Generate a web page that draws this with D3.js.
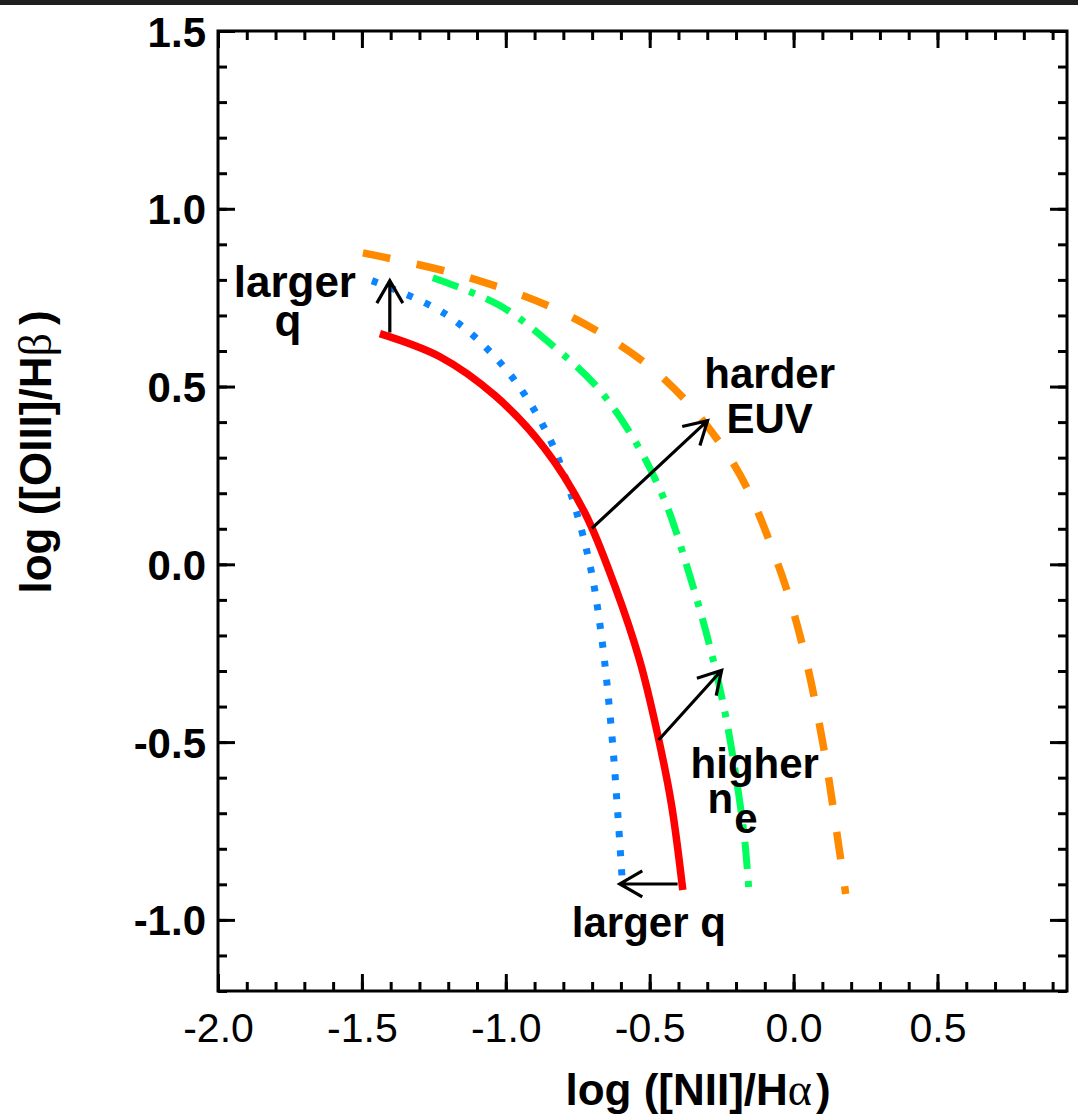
<!DOCTYPE html>
<html>
<head>
<meta charset="utf-8">
<script src="https://cdn.jsdelivr.net/npm/d3@7"></script>
<style>
  html, body { margin: 0; padding: 0; background: #fff; }
  svg { display: block; }
</style>
</head>
<body>
<svg id="chart" width="1078" height="1117"></svg>
<script>
// ---- model tracks in the BPT plane: log([NII]/Hα) vs log([OIII]/Hβ) ----
// fiducial model (solid red)
const baseX = [-1.4375, -1.229, -1.038, -0.865, -0.726, -0.622, -0.535, -0.472, -0.424, -0.385];
const baseY = [0.649, 0.584, 0.475, 0.326, 0.146, -0.059, -0.27, -0.48, -0.677, -0.916];
// larger ionisation parameter (dotted blue)
const qX = [-1.465, -1.212, -1.0104, -0.865, -0.778, -0.708, -0.667, -0.632, -0.611, -0.594];
const qY = [0.798, 0.705, 0.559, 0.382, 0.208, 0.0, -0.205, -0.475, -0.699, -0.907];
// higher electron density (dash-dot green)
const neX = [-1.2535, -1.0208, -0.837, -0.681, -0.552, -0.448, -0.361, -0.292, -0.24, -0.198, -0.17, -0.156];
const neY = [0.806, 0.728, 0.615, 0.497, 0.348, 0.18, -0.031, -0.228, -0.41, -0.607, -0.775, -0.91];
// harder EUV spectrum (dashed orange)
const euvX = [-1.4965, -1.125, -0.767, -0.448, -0.205, -0.059, 0.031, 0.101, 0.16, 0.181];
const euvY = [0.876, 0.806, 0.694, 0.52, 0.278, 0.011, -0.228, -0.5, -0.809, -0.927];

// ---- axis ticks ----
const xMajor = [-2.0, -1.5, -1.0, -0.5, 0.0, 0.5];
const yMajor = [-1.0, -0.5, 0.0, 0.5, 1.0, 1.5];
const xMinor = d3.range(-20, 10).map(v => v / 10);
const yMinor = d3.range(-12, 16).map(v => v / 10);

// ---- arrows (tail -> head) and their labels ----
const arrowX0 = [-1.403, -0.701, -0.469, -0.403];
const arrowY0 = [0.652, 0.101, -0.494, -0.899];
const arrowX1 = [-1.403, -0.299, -0.25, -0.604];
const arrowY1 = [0.798, 0.404, -0.298, -0.899];

const labelText = ["larger", "q", "harder", "EUV", "higher", "larger q"];
const labelX = [-1.733, -1.757, -0.083, -0.083, -0.135, -0.503];
const labelY = [0.752, 0.641, 0.497, 0.368, -0.601, -1.048];

// ---- layout ----
const svg = d3.select("#chart");
const W = 1078, H = 1117;
const frameL = 218, frameR = 1067, frameT = 31, frameB = 991;
const SANS = "'Liberation Sans', Arial, Helvetica, sans-serif";
const GREEK = "'Liberation Serif', 'DejaVu Serif', serif";

const x = d3.scaleLinear().domain([-2, 0.95]).range([frameL, frameR]);
const y = d3.scaleLinear().domain([-1.2, 1.5]).range([frameB, frameT]);

svg.append("rect").attr("width", W).attr("height", H).attr("fill", "#fff");
// thin dark strip along the top edge
svg.append("rect").attr("x", 0).attr("y", 0).attr("width", W).attr("height", 5).attr("fill", "#1f1f1f");

const fmt = d => d.toFixed(1);
const MAJ = 17, MIN = 9;

function styleAxis(g) {
  g.select(".domain").remove();
  g.selectAll(".tick line").attr("stroke", "#000").attr("stroke-width", 3);
}

// bottom
svg.append("g").attr("transform", `translate(0,${frameB})`)
  .call(d3.axisBottom(x).tickValues(xMinor).tickSize(-MIN).tickFormat("")).call(styleAxis);
const gB = svg.append("g").attr("transform", `translate(0,${frameB})`);
gB.call(d3.axisBottom(x).tickValues(xMajor).tickSize(-MAJ).tickFormat(fmt)).call(styleAxis);
gB.selectAll("text")
  .attr("y", 51).attr("dy", 0)
  .attr("font-family", SANS).attr("font-size", 41).attr("fill", "#000");

// top
svg.append("g").attr("transform", `translate(0,${frameT})`)
  .call(d3.axisTop(x).tickValues(xMinor).tickSize(-MIN).tickFormat("")).call(styleAxis);
svg.append("g").attr("transform", `translate(0,${frameT})`)
  .call(d3.axisTop(x).tickValues(xMajor).tickSize(-MAJ).tickFormat("")).call(styleAxis);

// left
svg.append("g").attr("transform", `translate(${frameL},0)`)
  .call(d3.axisLeft(y).tickValues(yMinor).tickSize(-MIN).tickFormat("")).call(styleAxis);
const gL = svg.append("g").attr("transform", `translate(${frameL},0)`);
gL.call(d3.axisLeft(y).tickValues(yMajor).tickSize(-MAJ).tickFormat(fmt)).call(styleAxis);
gL.selectAll("text")
  .attr("x", -12).attr("dy", 0).attr("y", 15)
  .attr("text-anchor", "end")
  .attr("font-family", SANS).attr("font-weight", "bold").attr("font-size", 42).attr("fill", "#000");

// right
svg.append("g").attr("transform", `translate(${frameR},0)`)
  .call(d3.axisRight(y).tickValues(yMinor).tickSize(-MIN).tickFormat("")).call(styleAxis);
svg.append("g").attr("transform", `translate(${frameR},0)`)
  .call(d3.axisRight(y).tickValues(yMajor).tickSize(-MAJ).tickFormat("")).call(styleAxis);

// frame
svg.append("rect")
  .attr("x", frameL).attr("y", frameT).attr("width", frameR - frameL).attr("height", frameB - frameT)
  .attr("fill", "none").attr("stroke", "#000").attr("stroke-width", 3);

// axis titles
const xt = svg.append("text")
  .attr("x", 698).attr("y", 1105).attr("text-anchor", "middle")
  .attr("font-family", SANS).attr("font-weight", "bold").attr("font-size", 44).attr("fill", "#000");
xt.append("tspan").text("log ([NII]/H");
xt.append("tspan").attr("font-family", GREEK).attr("font-weight", "normal").attr("font-size", 46).text("α");
xt.append("tspan").attr("dx", 4).text(")");

const yt = svg.append("text")
  .attr("transform", "translate(51,452) rotate(-90)").attr("text-anchor", "middle")
  .attr("font-family", SANS).attr("font-weight", "bold").attr("font-size", 44).attr("fill", "#000");
yt.append("tspan").text("log ([OIII]/H");
yt.append("tspan").attr("font-family", GREEK).attr("font-weight", "normal").attr("font-size", 46).text("β");
yt.append("tspan").attr("dx", 8).text(")");

// model tracks (centripetal Catmull-Rom through the sampled points)
const line = d3.line().x(d => x(d[0])).y(d => y(d[1])).curve(d3.curveCatmullRom.alpha(0.5));
const tracks = [
  { xs: euvX, ys: euvY, color: "#ff8a00", width: 7.5, dash: "28,27" },
  { xs: neX, ys: neY, color: "#00ff5e", width: 7, dash: "27,12,6,12" },
  { xs: qX, ys: qY, color: "#0a84ff", width: 7, dash: "6,13" },
  { xs: baseX, ys: baseY, color: "#ff0000", width: 7.5, dash: null }
];
const plot = svg.append("g");
tracks.forEach(t => {
  const pts = t.xs.map((v, i) => [v, t.ys[i]]);
  plot.append("path")
    .attr("d", line(pts))
    .attr("fill", "none")
    .attr("stroke", t.color)
    .attr("stroke-width", t.width)
    .attr("stroke-dasharray", t.dash)
    .attr("stroke-linecap", "butt");
});

// arrows with open heads
const HEAD = 26, ANG = Math.PI / 6;
arrowX0.forEach((_, i) => {
  const x0 = x(arrowX0[i]), y0 = y(arrowY0[i]);
  const x1 = x(arrowX1[i]), y1 = y(arrowY1[i]);
  const a = Math.atan2(y1 - y0, x1 - x0);
  const p = d3.path();
  p.moveTo(x0, y0); p.lineTo(x1, y1);
  p.moveTo(x1 - HEAD * Math.cos(a - ANG), y1 - HEAD * Math.sin(a - ANG));
  p.lineTo(x1, y1);
  p.lineTo(x1 - HEAD * Math.cos(a + ANG), y1 - HEAD * Math.sin(a + ANG));
  plot.append("path").attr("d", p.toString())
    .attr("fill", "none").attr("stroke", "#000").attr("stroke-width", 3.2)
    .attr("stroke-linejoin", "miter");
});

// annotation labels
const ann = svg.append("g")
  .attr("font-family", SANS).attr("font-weight", "bold").attr("font-size", 42).attr("fill", "#000");
labelText.forEach((t, i) => {
  ann.append("text").attr("x", x(labelX[i])).attr("y", y(labelY[i]))
    .attr("text-anchor", "middle")
    .attr("font-size", i < 2 ? 44 : null)
    .text(t);
});
// n_e with subscript
const ne = ann.append("text").attr("x", x(-0.299)).attr("y", y(-0.699));
ne.append("tspan").text("n");
ne.append("tspan").attr("dx", 1).attr("dy", 20).text("e");
</script>
</body>
</html>
